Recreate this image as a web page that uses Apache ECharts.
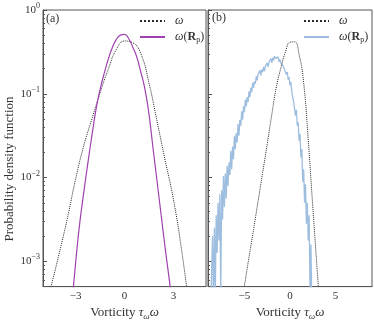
<!DOCTYPE html>
<html>
<head>
<meta charset="utf-8">
<script src="https://cdn.jsdelivr.net/npm/echarts@6/dist/echarts.min.js"></script>
<style>html,body{margin:0;padding:0;background:#fff;}#c{width:374px;height:326px;}</style>
</head>
<body>
<div id="c"></div>
<script>
// ---- data (y values stored as log10 of the PDF) ----
const omegaAX   = [-5, -4.5, -4, -3.5, -3, -2.5, -2, -1.5, -1, -0.5, 0, 0.5, 1, 1.5, 2, 2.5, 3, 3.5, 4];
const omegaALog = [-3.65, -3.29, -2.90, -2.48, -2.02, -1.62, -1.30, -0.99, -0.71, -0.47, -0.37, -0.39, -0.52, -0.87, -1.33, -1.80, -2.26, -2.86, -3.6];

const rpAX   = [-3.25, -3, -2.75, -2.5, -2.25, -2, -1.75, -1.5, -1.25, -1, -0.75, -0.5, -0.25, 0, 0.25, 0.5, 0.75, 1, 1.25, 1.5, 1.75, 2, 2.25, 2.5, 2.75, 3];
const rpALog = [-3.55, -3.02, -2.55, -2.18, -1.83, -1.50, -1.19, -0.95, -0.76, -0.59, -0.45, -0.35, -0.30, -0.29, -0.34, -0.44, -0.56, -0.74, -0.94, -1.24, -1.65, -2.05, -2.45, -2.85, -3.22, -3.6];

const omegaBX   = [-6, -5.5, -5, -4.5, -4, -3.5, -3, -2.5, -2, -1.5, -1, -0.5, 0, 0.5, 1, 1.5, 2, 2.5, 3, 3.5];
const omegaBLog = [-3.97, -3.63, -3.29, -2.95, -2.62, -2.28, -1.94, -1.60, -1.25, -0.92, -0.69, -0.50, -0.385, -0.38, -0.53, -0.87, -1.55, -2.35, -3.13, -3.9];

const rpBX = [-8.7,-8.6,-8.5,-8.4,-8.3,-8.2,-8.1,-8.0,-7.9,-7.8,-7.7,-7.6,-7.5,-7.4,-7.3,-7.2,-7.1,-7.0,-6.9,-6.8,-6.7,-6.6,-6.5,-6.4,-6.3,-6.2,-6.1,-6.0,-5.9,-5.8,-5.7,-5.6,-5.5,-5.4,-5.3,-5.2,-5.1,-5.0,-4.9,-4.8,-4.7,-4.6,-4.5,-4.4,-4.3,-4.2,-4.1,-4.0,-3.9,-3.8,-3.7,-3.6,-3.5,-3.4,-3.3,-3.2,-3.1,-3.0,-2.9,-2.8,-2.7,-2.6,-2.5,-2.4,-2.3,-2.2,-2.1,-2.0,-1.9,-1.8,-1.7,-1.6,-1.5,-1.4,-1.3,-1.2,-1.1,-1.0,-0.9,-0.8,-0.7,-0.6,-0.5,-0.4,-0.3,-0.2,-0.1,0.0,0.1,0.2,0.3,0.4,0.5,0.6,0.7,0.8,0.9,1.0,1.1,1.2,1.3,1.4,1.5,1.6,1.7,1.8,1.9,2.0,2.1,2.2,2.3,2.4,2.5];
const rpBLog = [-3.6,-3.1,-2.7,-3.5,-2.6,-3.4,-2.45,-2.9,-2.3,-2.75,-2.2,-3.4,-2.15,-2.5,-1.98,-2.35,-1.95,-2.25,-1.86,-2.1,-1.82,-1.97,-1.68,-1.9,-1.63,-1.78,-1.5,-1.66,-1.47,-1.58,-1.36,-1.5,-1.31,-1.38,-1.21,-1.31,-1.15,-1.22,-1.07,-1.15,-1.04,-1.1,-0.97,-1.04,-0.93,-0.98,-0.87,-0.93,-0.85,-0.88,-0.79,-0.84,-0.77,-0.79,-0.72,-0.78,-0.71,-0.74,-0.68,-0.73,-0.67,-0.69,-0.63,-0.68,-0.62,-0.64,-0.58,-0.63,-0.57,-0.6,-0.55,-0.58,-0.56,-0.6,-0.56,-0.62,-0.59,-0.63,-0.62,-0.66,-0.66,-0.71,-0.7,-0.77,-0.74,-0.83,-0.8,-0.9,-0.86,-0.98,-0.97,-1.1,-1.09,-1.26,-1.19,-1.38,-1.34,-1.56,-1.48,-1.76,-1.66,-2.05,-1.9,-2.3,-2.08,-2.55,-2.3,-2.75,-2.45,-3.4,-2.8,-3.6,-3.8];

// ---- ticks ----
const xTicksA = [-3, 0, 3];
const xTicksB = [-5, 0, 5];
const yMajor = [0.001, 0.01, 0.1, 1];
const yMinor = [6e-4, 7e-4, 8e-4, 9e-4, 2e-3, 3e-3, 4e-3, 5e-3, 6e-3, 7e-3, 8e-3, 9e-3, 2e-2, 3e-2, 4e-2, 5e-2, 6e-2, 7e-2, 8e-2, 9e-2, 0.2, 0.3, 0.4, 0.5, 0.6, 0.7, 0.8, 0.9];

const FONT = 'Liberation Serif';
const TXT = '#333';
const AX = '#555';
const toData = (xs, logs) => xs.map((x, i) => [x, Math.pow(10, logs[i])]);

const chart = echarts.init(document.getElementById('c'), null, {renderer: 'canvas'});

const yLabelFmt = v => {
  const e = Math.round(Math.log10(v));
  return '{b|10}{s|' + (e === 0 ? '0' : '\u2212' + (-e)) + '}';
};
const yRich = {
  b: {fontFamily: FONT, fontSize: 11, lineHeight: 16, color: TXT},
  s: {fontFamily: FONT, fontSize: 8, lineHeight: 8, verticalAlign: 'top', color: TXT}
};
const xLabelFmt = v => String(v).replace('-', '\u2212');
const nameRich = {
  n: {fontFamily: FONT, fontSize: 13, lineHeight: 16, color: TXT},
  i: {fontFamily: FONT, fontSize: 13, lineHeight: 16, fontStyle: 'italic', color: TXT},
  s: {fontFamily: FONT, fontSize: 9, lineHeight: 9, fontStyle: 'italic', verticalAlign: 'bottom', color: TXT}
};
const xName = '{n|Vorticity }{i|\u03c4}{s|\u03c9}{i|\u03c9}';

const legendNames = {
  'wa': '{i|\u03c9}', 'ra': '{i|\u03c9}{n|(}{b|R}{s|p}{n|)}',
  'wb': '{i|\u03c9}', 'rb': '{i|\u03c9}{n|(}{b|R}{s|p}{n|)}'
};
const legendRich = {
  n: {fontFamily: FONT, fontSize: 12, lineHeight: 14, color: TXT},
  i: {fontFamily: FONT, fontSize: 12, lineHeight: 14, fontStyle: 'italic', color: TXT},
  b: {fontFamily: FONT, fontSize: 12, lineHeight: 14, fontWeight: 'bold', color: TXT},
  s: {fontFamily: FONT, fontSize: 8, lineHeight: 8, verticalAlign: 'bottom', color: TXT}
};

function xAxisCfg(grid, min, max, ticks) {
  return {
    gridIndex: grid, type: 'value', min: min, max: max,
    axisLine: {show: true, onZero: false, lineStyle: {color: AX, width: 1}},
    axisTick: {show: false},
    axisLabel: {customValues: ticks, formatter: xLabelFmt, fontFamily: FONT, fontSize: 11, color: TXT, margin: 4},
    splitLine: {show: false},
    name: xName, nameLocation: 'middle', nameGap: 12,
    nameTextStyle: {rich: nameRich}
  };
}
function yAxisCfg(grid, labels) {
  return {
    gridIndex: grid, type: 'log', min: 5e-4, max: 1, position: 'left',
    axisLine: {show: true, onZero: false, lineStyle: {color: AX, width: 1}},
    axisTick: {show: true, inside: true, length: 4, customValues: yMajor, lineStyle: {color: AX}},
    axisLabel: {show: labels, customValues: yMajor, formatter: yLabelFmt, rich: yRich, margin: 3},
    splitLine: {show: false}
  };
}
function yMinorCfg(grid) {
  return {
    gridIndex: grid, type: 'log', min: 5e-4, max: 1, position: 'left', offset: 0,
    axisLine: {show: false, onZero: false},
    axisTick: {show: true, inside: true, length: 2, customValues: yMinor, lineStyle: {color: AX}},
    axisLabel: {show: false},
    splitLine: {show: false}
  };
}
const legendCommon = {
  orient: 'vertical', itemWidth: 25, itemHeight: 14, itemGap: 4, padding: 0,
  formatter: n => legendNames[n],
  itemStyle: {opacity: 0},
  textStyle: {rich: legendRich, padding: [0, 0, 0, 5]},
  selectedMode: false
};

chart.setOption({
  animation: false,
  backgroundColor: '#fff',
  grid: [
    {left: 43, top: 10, width: 163, height: 283, show: true, borderColor: AX, borderWidth: 1},
    {left: 208, top: 10, width: 164, height: 283, show: true, borderColor: AX, borderWidth: 1}
  ],
  title: [
    {text: '(a)', left: 46, top: 13, padding: 0, textStyle: {fontFamily: FONT, fontSize: 12, fontWeight: 'normal', color: TXT}},
    {text: '(b)', left: 212, top: 12, padding: 0, textStyle: {fontFamily: FONT, fontSize: 12, fontWeight: 'normal', color: TXT}}
  ],
  legend: [
    Object.assign({}, legendCommon, {data: ['wa', 'ra'], left: 139, top: 15}),
    Object.assign({}, legendCommon, {data: ['wb', 'rb'], left: 303, top: 15})
  ],
  xAxis: [xAxisCfg(0, -5, 5, xTicksA), xAxisCfg(1, -9, 9, xTicksB)],
  yAxis: [yAxisCfg(0, true), yMinorCfg(0), yAxisCfg(1, false), yMinorCfg(1)],
  graphic: [{
    type: 'text', x: 10, y: 169, rotation: Math.PI / 2,
    style: {text: 'Probability density function', fontFamily: FONT, fontSize: 13, fill: TXT, align: 'center', verticalAlign: 'middle'}
  }],
  series: [
    {name: 'wa', type: 'line', xAxisIndex: 0, yAxisIndex: 0, data: toData(omegaAX, omegaALog),
     symbol: 'none', smooth: true, color: '#2a2a2a', lineStyle: {color: '#2a2a2a', width: 1, type: 'dotted'}, z: 2},
    {name: 'ra', type: 'line', xAxisIndex: 0, yAxisIndex: 0, data: toData(rpAX, rpALog),
     symbol: 'none', smooth: true, color: '#a040b0', lineStyle: {color: '#a040b0', width: 1.2}, z: 3},
    {name: 'rb', type: 'line', xAxisIndex: 1, yAxisIndex: 2, data: toData(rpBX, rpBLog),
     symbol: 'none', smooth: false, color: '#93b7db', lineStyle: {color: '#93b7db', width: 1.3, opacity: 0.9}, z: 2},
    {name: 'wb', type: 'line', xAxisIndex: 1, yAxisIndex: 2, data: toData(omegaBX, omegaBLog),
     symbol: 'none', smooth: true, color: '#2a2a2a', lineStyle: {color: '#2a2a2a', width: 1, type: 'dotted'}, z: 3}
  ]
});
</script>
</body>
</html>
